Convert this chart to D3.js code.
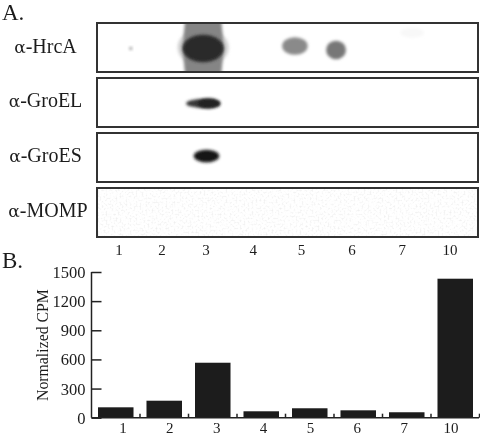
<!DOCTYPE html>
<html>
<head>
<meta charset="utf-8">
<script src="https://cdn.jsdelivr.net/npm/d3@7"></script>
<style>
  html, body { margin: 0; padding: 0; background: #fff; }
  text { font-family: "Liberation Serif", serif; fill: #1c1c1c; }
</style>
</head>
<body>
<script>
"use strict";

// Panel B
const lanes = ["1", "2", "3", "4", "5", "6", "7", "10"];
const cpm = [107, 175, 566, 66, 97, 76, 56, 1431];
const cpmTicks = [0, 300, 600, 900, 1200, 1500];

// Panel A
const antibodies = ["HrcA", "GroEL", "GroES", "MOMP"];
const lanePositions = [0, 0.91, 1.84, 2.84, 3.86, 4.93, 5.99, 7];

// Blot spots: antibody, position along the lanes, position down the strip,
// spread along the lanes, spread down the strip, darkness
const spotAntibody = ["HrcA", "HrcA", "HrcA", "HrcA", "HrcA", "HrcA", "HrcA", "GroEL", "GroEL", "GroES"];
const spotLane = [0.25, 1.78, 1.78, 1.78, 3.72, 4.59, 6.2, 1.78, 1.9, 1.85];
const spotDepth = [0.52, 0.5, 0.5, 0.52, 0.47, 0.55, 0.2, 0.52, 0.52, 0.47];
const spotSpreadX = [0.03, 0.54, 0.42, 0.44, 0.27, 0.21, 0.25, 0.36, 0.24, 0.27];
const spotSpreadY = [0.03, 0.4, 1.3, 0.28, 0.18, 0.19, 0.1, 0.09, 0.1, 0.13];
const spotDarkness = [0.5, 0.2, 0.52, 0.9, 0.5, 0.58, 0.03, 0.85, 0.95, 1];

const width = 480;
const height = 436;

const svg = d3.select("body")
  .append("svg")
    .attr("width", width)
    .attr("height", height)
    .style("display", "block");

const defs = svg.append("defs");

defs.append("filter")
    .attr("id", "soft")
    .attr("x", "-5%").attr("y", "-5%")
    .attr("width", "110%").attr("height", "110%")
  .append("feGaussianBlur")
    .attr("stdDeviation", 0.4);

const spotBlur = defs.append("filter")
    .attr("id", "spot-blur")
    .attr("x", "-50%").attr("y", "-50%")
    .attr("width", "200%").attr("height", "200%");
spotBlur.append("feGaussianBlur")
    .attr("stdDeviation", 1.6);

// Faint film grain on the MOMP strip
const grain = defs.append("filter")
    .attr("id", "grain")
    .attr("x", 0).attr("y", 0)
    .attr("width", "100%").attr("height", "100%");
grain.append("feTurbulence")
    .attr("type", "fractalNoise")
    .attr("baseFrequency", 0.5)
    .attr("numOctaves", 2)
    .attr("seed", 4);
grain.append("feColorMatrix")
    .attr("values", "0 0 0 0 0.72  0 0 0 0 0.72  0 0 0 0 0.72  1.3 0 0 0 -0.62");

const root = svg.append("g").attr("filter", "url(#soft)");

/* ---------- Panel A ---------- */

const stripLeft = 97;
const stripRight = 478;

const stripY = d3.scaleBand()
  .domain(antibodies)
  .range([23, 237])
  .paddingInner(0.109)
  .paddingOuter(0);

const laneX = d3.scaleLinear().domain([0, 7]).range([119, 450]);
const depthY = d3.scaleLinear().domain([0, 1]).range([0, stripY.bandwidth()]);
const darkness = d3.scaleLinear().domain([0, 1]).range(["#fff", "#141414"]);

root.append("text")
    .attr("x", 2)
    .attr("y", 20)
    .attr("font-size", 23)
    .text("A.");

const strips = root.selectAll(".strip")
  .data(antibodies)
  .enter()
  .append("g")
    .attr("class", "strip")
    .attr("transform", (d) => `translate(0,${stripY(d)})`);

strips.append("clipPath")
    .attr("id", (d) => `clip-${d}`)
  .append("rect")
    .attr("x", stripLeft)
    .attr("width", stripRight - stripLeft)
    .attr("height", stripY.bandwidth());

strips.append("rect")
    .attr("x", stripLeft)
    .attr("width", stripRight - stripLeft)
    .attr("height", stripY.bandwidth())
    .attr("fill", "#fff");

strips.filter((d) => d === "MOMP")
  .append("rect")
    .attr("x", stripLeft)
    .attr("width", stripRight - stripLeft)
    .attr("height", stripY.bandwidth())
    .attr("filter", "url(#grain)");

const spots = spotLane.map((lane, i) => ({
  antibody: spotAntibody[i],
  lane,
  depth: spotDepth[i],
  spreadX: spotSpreadX[i],
  spreadY: spotSpreadY[i],
  dark: spotDarkness[i],
}));

strips.append("g")
    .attr("clip-path", (d) => `url(#clip-${d})`)
  .selectAll("ellipse")
  .data((d) => spots.filter((s) => s.antibody === d))
  .enter()
  .append("ellipse")
    .attr("cx", (d) => laneX(d.lane))
    .attr("cy", (d) => depthY(d.depth))
    .attr("rx", (d) => laneX(d.spreadX) - laneX(0))
    .attr("ry", (d) => depthY(d.spreadY))
    .attr("fill", (d) => darkness(d.dark))
    .attr("filter", "url(#spot-blur)");

strips.append("rect")
    .attr("x", stripLeft)
    .attr("width", stripRight - stripLeft)
    .attr("height", stripY.bandwidth())
    .attr("fill", "none")
    .attr("stroke", "#333")
    .attr("stroke-width", 2);

const stripLabels = strips.append("text")
    .attr("x", (d) => (d === "MOMP" ? 48 : 45.5))
    .attr("y", 29.5)
    .attr("text-anchor", "middle")
    .attr("font-size", 20);
stripLabels.append("tspan")
    .style("font-family", "'DejaVu Serif', serif")
    .attr("font-size", 17)
    .text("α");
stripLabels.append("tspan")
    .text((d) => `-${d}`);

root.selectAll(".lane-label")
  .data(lanes)
  .enter()
  .append("text")
    .attr("class", "lane-label")
    .attr("x", (d, i) => laneX(lanePositions[i]))
    .attr("y", 255)
    .attr("text-anchor", "middle")
    .attr("font-size", 15)
    .text((d) => d);

/* ---------- Panel B ---------- */

const plotLeft = 91.5;
const plotRight = 479;

const x = d3.scaleBand()
  .domain(lanes)
  .range([98, 473])
  .paddingInner(0.268)
  .paddingOuter(0);

// The labels under the bars run on a slightly tighter spacing than the bars
const xLabel = d3.scalePoint()
  .domain(lanes)
  .range([123, 451]);

const y = d3.scaleLinear().domain([0, 1500]).range([417.7, 272]);

root.append("text")
    .attr("x", 2)
    .attr("y", 268)
    .attr("font-size", 23)
    .text("B.");

root.selectAll(".bar")
  .data(lanes)
  .enter()
  .append("rect")
    .attr("class", "bar")
    .attr("x", (d) => x(d))
    .attr("y", (d, i) => y(cpm[i]))
    .attr("width", x.bandwidth())
    .attr("height", (d, i) => y(0) - y(cpm[i]))
    .attr("fill", "#1a1a1a");

const yAxis = root.append("g")
    .attr("transform", `translate(${plotLeft},0)`)
    .call(d3.axisLeft(y).tickValues(cpmTicks).tickSize(0).tickPadding(6).tickFormat(d3.format("d")));
yAxis.select(".domain").remove();
yAxis.selectAll("line")
    .attr("x1", 0)
    .attr("x2", 10)
    .attr("stroke", "#222")
    .attr("stroke-width", 1.5);
yAxis.selectAll("text")
    .attr("font-size", 16.5)
    .attr("font-family", null)
    .attr("dy", "0.33em");

root.append("line")
    .attr("x1", plotLeft)
    .attr("x2", plotLeft)
    .attr("y1", y(1500))
    .attr("y2", y(0))
    .attr("stroke", "#222")
    .attr("stroke-width", 1.5);

root.append("line")
    .attr("x1", plotLeft)
    .attr("x2", plotRight)
    .attr("y1", y(0))
    .attr("y2", y(0))
    .attr("stroke", "#222")
    .attr("stroke-width", 1.5);

// Small ticks sit between the bars and point up
root.selectAll(".between-tick")
  .data(lanes)
  .enter()
  .append("line")
    .attr("class", "between-tick")
    .attr("x1", (d) => x(d) + x.step() - x.step() * x.paddingInner() / 2)
    .attr("x2", (d) => x(d) + x.step() - x.step() * x.paddingInner() / 2)
    .attr("y1", y(0))
    .attr("y2", y(0) - 4)
    .attr("stroke", "#222")
    .attr("stroke-width", 1.5);

root.selectAll(".bar-label")
  .data(lanes)
  .enter()
  .append("text")
    .attr("class", "bar-label")
    .attr("x", (d) => xLabel(d))
    .attr("y", 433)
    .attr("text-anchor", "middle")
    .attr("font-size", 15)
    .text((d) => d);

root.append("text")
    .attr("transform", "translate(48,401) rotate(-90)")
    .attr("font-size", 15.8)
    .text("Normalized CPM");
</script>
</body>
</html>
